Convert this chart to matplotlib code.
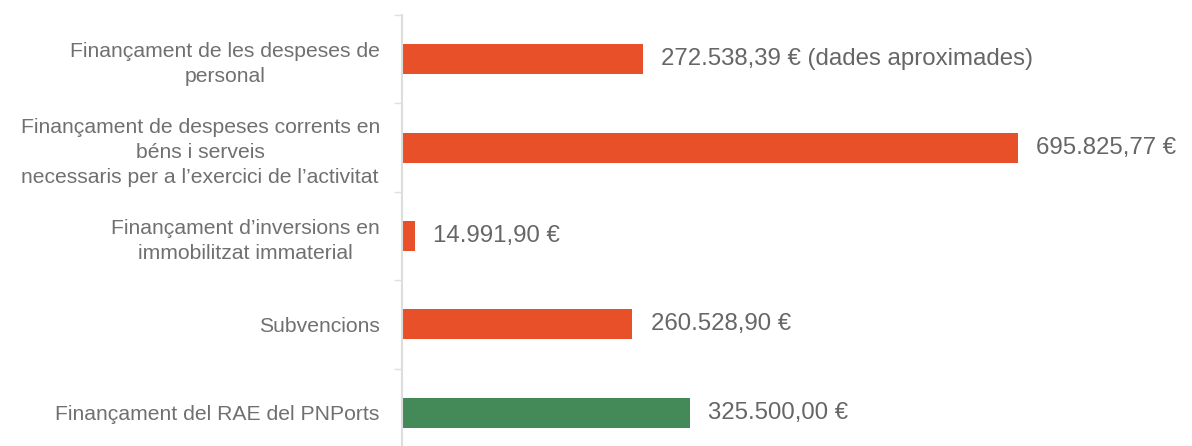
import matplotlib
matplotlib.use("Agg")
import matplotlib.pyplot as plt
from matplotlib.ticker import FixedLocator

plt.rcParams['font.family'] = ['Liberation Sans', 'DejaVu Sans']

categories = [
    "Finançament de les despeses de\npersonal",
    "Finançament de despeses corrents en\nbéns i serveis\nnecessaris per a l\u2019exercici de l\u2019activitat",
    "Finançament d\u2019inversions en\nimmobilitzat immaterial",
    "Subvencions",
    "Finançament del RAE del PNPorts",
]
values = [272538.39, 695825.77, 14991.90, 260528.90, 325500.00]
value_labels = [
    "272.538,39 € (dades aproximades)",
    "695.825,77 €",
    "14.991,90 €",
    "260.528,90 €",
    "325.500,00 €",
]
colors = ["#E8502A", "#E8502A", "#E8502A", "#E8502A", "#448A58"]

W, H = 1192, 446
fig = plt.figure(figsize=(W / 100, H / 100), dpi=100)
left, right, top, bottom = 402, 1192, 15, 457
ax = fig.add_axes([left / W, (H - bottom) / H, (right - left) / W, (bottom - top) / H])

ypos = list(range(len(categories)))
ax.barh(ypos, values, height=0.34, color=colors, zorder=2)
ax.set_ylim(len(categories) - 0.5, -0.5)
ax.set_xlim(0, 893000)

for y, v, lab in zip(ypos, values, value_labels):
    ax.annotate(lab, (v, y), xytext=(13, 0), textcoords="offset points",
                va="center", ha="left", fontsize=17.3, color="#666666")

ax.set_yticks(ypos)
ax.set_yticklabels(categories, fontsize=15.2, color="#707070", multialignment="center",
                   linespacing=1.38)
ax.tick_params(axis="y", which="major", length=0, pad=16)
ax.yaxis.set_minor_locator(FixedLocator([i - 0.5 for i in range(len(categories) + 1)]))
ax.tick_params(axis="y", which="minor", length=6, width=1, color="#e0e0e0")
ax.set_xticks([])

for s in ["top", "right", "bottom"]:
    ax.spines[s].set_visible(False)
ax.spines["left"].set_color("#dddddd")
ax.spines["left"].set_linewidth(1.5)

fig.savefig("out.png", dpi=100)
